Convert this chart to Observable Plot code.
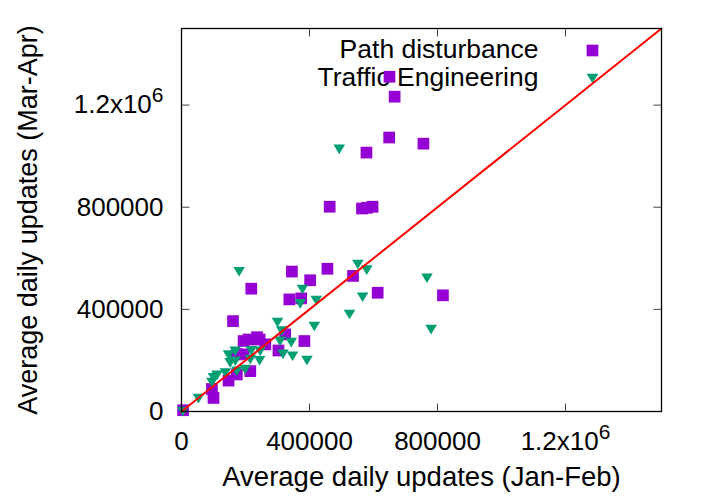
<!DOCTYPE html>
<html><head><meta charset="utf-8">
<script src="https://cdn.jsdelivr.net/npm/d3@7"></script>
<script src="https://cdn.jsdelivr.net/npm/@observablehq/plot@0.6"></script>
<style>body{margin:0;background:#fff} #chart{width:710px;height:498px}</style>
</head><body><div id="chart"></div>
<script>
// Path disturbance (Jan-Feb, Mar-Apr) average daily updates
const pathX = [650000, 666000, 649000, 756000, 578000, 463000, 564000, 580000, 597000, 345000, 456000, 402000, 536000, 218000, 613000, 817000, 337000, 374000, 161000, 384000, 324000, 194000, 209000, 236000, 244000, 262000, 303000, 173000, 194000, 215000, 173000, 147000, 95000, 100000, 5000];
const pathY = [1311000, 1233000, 1073000, 1049000, 1014000, 802000, 795000, 798000, 802000, 548000, 559000, 514000, 531000, 481000, 465000, 455000, 439000, 443000, 354000, 276000, 302000, 276000, 282000, 291000, 282000, 263000, 239000, 224000, 224000, 158000, 145000, 121000, 88000, 53000, 5000];
// Traffic Engineering
const teX = [493000, 551000, 579000, 180000, 767000, 378000, 421000, 566000, 371000, 525000, 780000, 300000, 415000, 313000, 308000, 343000, 317000, 347000, 392000, 218000, 246000, 147000, 168000, 168000, 152000, 215000, 244000, 199000, 173000, 137000, 111000, 100000, 95000, 53000, 4000];
const teY = [1027000, 576000, 554000, 548000, 522000, 478000, 435000, 448000, 422000, 380000, 321000, 349000, 333000, 315000, 275000, 270000, 224000, 217000, 200000, 238000, 236000, 221000, 236000, 197000, 191000, 204000, 199000, 165000, 158000, 151000, 142000, 132000, 114000, 51000, 0];

const seriesNames = ["Path disturbance", "Traffic Engineering"];
const tickValues = [0, 400000, 800000, 1200000];
const tickLabels = ["0", "400000", "800000", "1.2x10^6"];
const axisDomain = [0, 1500000];
const diagonal = [0, 1500000];
const xTitle = "Average daily updates (Jan-Feb)";
const yTitle = "Average daily updates (Mar-Apr)";

const purple = "#9400D3", green = "#009E73";
const pathData = pathX.map((x, i) => ({x, y: pathY[i]}));
const teData = teX.map((x, i) => ({x, y: teY[i]}));

const triDown = {draw(c) { c.moveTo(-5.8, -4.7); c.lineTo(5.8, -4.7); c.lineTo(0, 4.9); c.closePath(); }};
const tk = (dx, dy) => ({draw(c) { c.moveTo(0, 0); c.lineTo(dx, dy); }});
const font = "'Liberation Sans', Arial, Helvetica, sans-serif";
const fmt = d => tickLabels[tickValues.indexOf(d)];

const plot = Plot.plot({
  width: 710, height: 498,
  marginLeft: 181, marginRight: 49, marginTop: 28, marginBottom: 87,
  style: {fontFamily: font, fontSize: "26px", background: "#fff", color: "#000"},
  x: {domain: axisDomain},
  y: {domain: axisDomain},
  marks: [
    // legend
    ...seriesNames.map((name, i) => Plot.text([name], {text: d => d, frameAnchor: "top-right", dx: -123, dy: 21 + i * 28, textAnchor: "end", lineAnchor: "middle", fontSize: 26.5, fill: "#000"})),
    Plot.dot([seriesNames[0]], {frameAnchor: "top-right", dx: -69, dy: 22, symbol: "square", r: 6.6, fill: purple}),
    Plot.dot([seriesNames[1]], {frameAnchor: "top-right", dx: -69, dy: 50, symbol: triDown, r: 5, fill: green}),
    // data
    Plot.dot(pathData, {x: "x", y: "y", symbol: "square", r: 6.6, fill: purple}),
    Plot.dot(teData, {x: "x", y: "y", symbol: triDown, r: 5, fill: green}),
    Plot.line(diagonal, {x: d => d, y: d => d, stroke: "#ff0000", strokeWidth: 2}),
    // inward ticks on all four sides
    Plot.dot(tickValues, {x: d => d, frameAnchor: "bottom", symbol: tk(0, -8), r: 1, fill: "none", stroke: "#444", strokeWidth: 1}),
    Plot.dot(tickValues, {x: d => d, frameAnchor: "top", symbol: tk(0, 8), r: 1, fill: "none", stroke: "#444", strokeWidth: 1}),
    Plot.dot(tickValues, {y: d => d, frameAnchor: "left", symbol: tk(8, 0), r: 1, fill: "none", stroke: "#444", strokeWidth: 1}),
    Plot.dot(tickValues, {y: d => d, frameAnchor: "right", symbol: tk(-8, 0), r: 1, fill: "none", stroke: "#444", strokeWidth: 1}),
    Plot.frame({stroke: "#000", strokeWidth: 1.3}),
    Plot.axisX({ticks: tickValues, tickFormat: fmt, tickSize: 0, tickPadding: 20, fontSize: 26, label: null}),
    Plot.axisY({ticks: tickValues, tickFormat: fmt, tickSize: 0, tickPadding: 18, fontSize: 26, label: null}),
    Plot.axisX({ticks: [], tickSize: 0, fontSize: 27.5, label: xTitle, labelAnchor: "center", labelOffset: 74, labelArrow: "none"}),
    Plot.axisY({ticks: [], tickSize: 0, fontSize: 27, label: yTitle, labelAnchor: "center", labelOffset: 164, labelArrow: "none"})
  ]
});

d3.select(plot).selectAll("text").each(function() {
  if (this.textContent === "1.2x10^6") {
    const t = d3.select(this);
    t.text(null);
    t.append("tspan").text("1.2x10");
    t.append("tspan").attr("dy", "-11").attr("font-size", "21px").text("6");
  }
});
document.getElementById("chart").append(plot);
</script>
</body></html>
